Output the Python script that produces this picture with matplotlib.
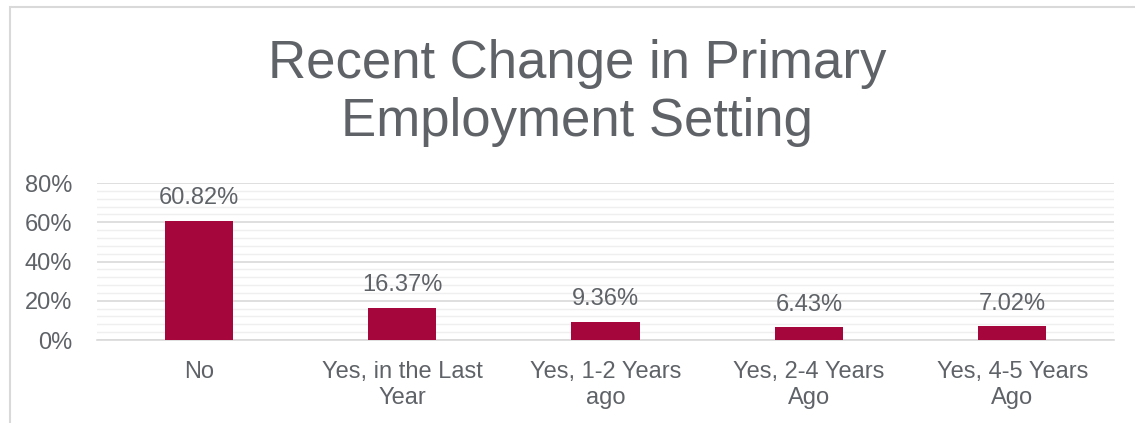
import matplotlib
matplotlib.use("Agg")
import matplotlib.pyplot as plt
from matplotlib.patches import Rectangle
from matplotlib.ticker import MultipleLocator, FuncFormatter

# survey answers and share of respondents (%)
categories = ["No", "Yes, in the Last\nYear", "Yes, 1-2 Years\nago",
              "Yes, 2-4 Years\nAgo", "Yes, 4-5 Years\nAgo"]
shares = [60.82, 16.37, 9.36, 6.43, 7.02]

text_color = "#5f6368"
bar_color = "#a5073c"

plt.rcParams['font.family'] = ['Liberation Sans', 'DejaVu Sans']

fig = plt.figure(figsize=(11.35, 4.23), dpi=100)
ax = fig.add_axes([97 / 1135, 1 - 340 / 423, 1017 / 1135, 157 / 423])

x = range(len(categories))
bars = ax.bar(x, shares, width=0.335, color=bar_color, zorder=3)

for b, v in zip(bars, shares):
    ax.annotate(f"{v:.2f}%", (b.get_x() + b.get_width() / 2, v),
                xytext=(0, 12), textcoords="offset points",
                ha="center", va="baseline", fontsize=17, color=text_color)

ax.set_xlim(-0.5, len(categories) - 0.5)
ax.set_ylim(0, 80)
ax.yaxis.set_major_locator(MultipleLocator(20))
ax.yaxis.set_minor_locator(MultipleLocator(4))
ax.yaxis.set_major_formatter(FuncFormatter(lambda v, p: f"{v:.0f}%"))
ax.grid(axis="y", which="major", color="#d9d9d9", linewidth=1.2, zorder=0)
ax.grid(axis="y", which="minor", color="#efefef", linewidth=1.0, zorder=0)

ax.set_xticks(list(x))
ax.set_xticklabels(categories, linespacing=1.25)
ax.tick_params(axis="both", which="both", length=0, labelsize=17,
               labelcolor=text_color)
ax.tick_params(axis="x", pad=15)
ax.tick_params(axis="y", pad=18)
for s in ["top", "right", "left"]:
    ax.spines[s].set_visible(False)
ax.spines["bottom"].set_color("#d9d9d9")
ax.spines["bottom"].set_linewidth(1.2)

fig.text(577 / 1135, 1 - 93 / 423, "Recent Change in Primary\nEmployment Setting",
         ha="center", va="center", fontsize=38, color=text_color,
         linespacing=1.22)

# light frame round the chart area
frame = Rectangle((10 / 1135, -0.5), 2, 1.5 - 7 / 423, transform=fig.transFigure,
                  fill=False, edgecolor="#d9d9d9", linewidth=1.5, clip_on=False)
fig.patches.append(frame)

fig.savefig("out.png", dpi=100)
